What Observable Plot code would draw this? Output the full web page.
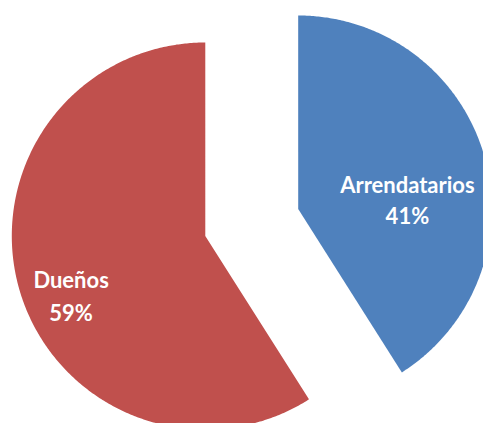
<!DOCTYPE html>
<html><head><meta charset="utf-8">
<script src="https://cdn.jsdelivr.net/npm/d3@7"></script>
<script src="https://cdn.jsdelivr.net/npm/@observablehq/plot@0.6"></script>
<style>html,body{margin:0;padding:0;background:#fff;} svg{display:block}</style>
</head><body><div id="chart"></div>
<script>
const categories = ["Arrendatarios", "Dueños"];
const shares = [41, 59];
const pctLabels = ["41%", "59%"];
const colors = ["#4F81BD", "#C0504D"];

const W = 483, H = 423, R = 193.5, CX = 251.25, CY = 222, explode = 0.25, labelR = 0.55;

const arcs = d3.pie().sort(null).value(d => d)(shares);
const pts = [];
const labelData = [];
arcs.forEach((p, i) => {
  const mid = (p.startAngle + p.endAngle) / 2;
  const ox = explode * Math.sin(mid), oy = explode * Math.cos(mid);
  pts.push({slice: categories[i], x: ox, y: oy});
  const n = Math.ceil((p.endAngle - p.startAngle) / (Math.PI / 360));
  for (let k = 0; k <= n; k++) {
    const a = p.startAngle + (p.endAngle - p.startAngle) * k / n;
    pts.push({slice: categories[i], x: ox + Math.sin(a), y: oy + Math.cos(a)});
  }
  pts.push({slice: categories[i], x: ox, y: oy});
  labelData.push({slice: categories[i], label: pctLabels[i],
    x: (explode + labelR) * Math.sin(mid), y: (explode + labelR) * Math.cos(mid)});
});

const textOpts = {x: "x", y: "y", text: d => d.slice + "\n" + d.label, fill: "white",
  fontSize: 22, fontWeight: "bold", fontFamily: "Lato, 'Open Sans', sans-serif", textAnchor: "middle"};

const chart = Plot.plot({
  width: W, height: H, margin: 0,
  style: {background: "#fff", overflow: "hidden"},
  x: {domain: [-CX / R, (W - CX) / R], range: [0, W], axis: null},
  y: {domain: [-(H - CY) / R, CY / R], range: [H, 0], axis: null},
  color: {domain: categories, range: colors},
  marks: [
    Plot.line(pts, {x: "x", y: "y", z: "slice", fill: "slice", stroke: "none", curve: "linear"}),
    Plot.text(labelData.filter(d => d.slice === categories[0]), {...textOpts, lineHeight: 1.4, dx: 7, dy: 19}),
    Plot.text(labelData.filter(d => d.slice === categories[1]), {...textOpts, lineHeight: 1.46, dx: -32, dy: 28.5})
  ]
});
document.getElementById("chart").appendChild(chart);
</script>
</body></html>
